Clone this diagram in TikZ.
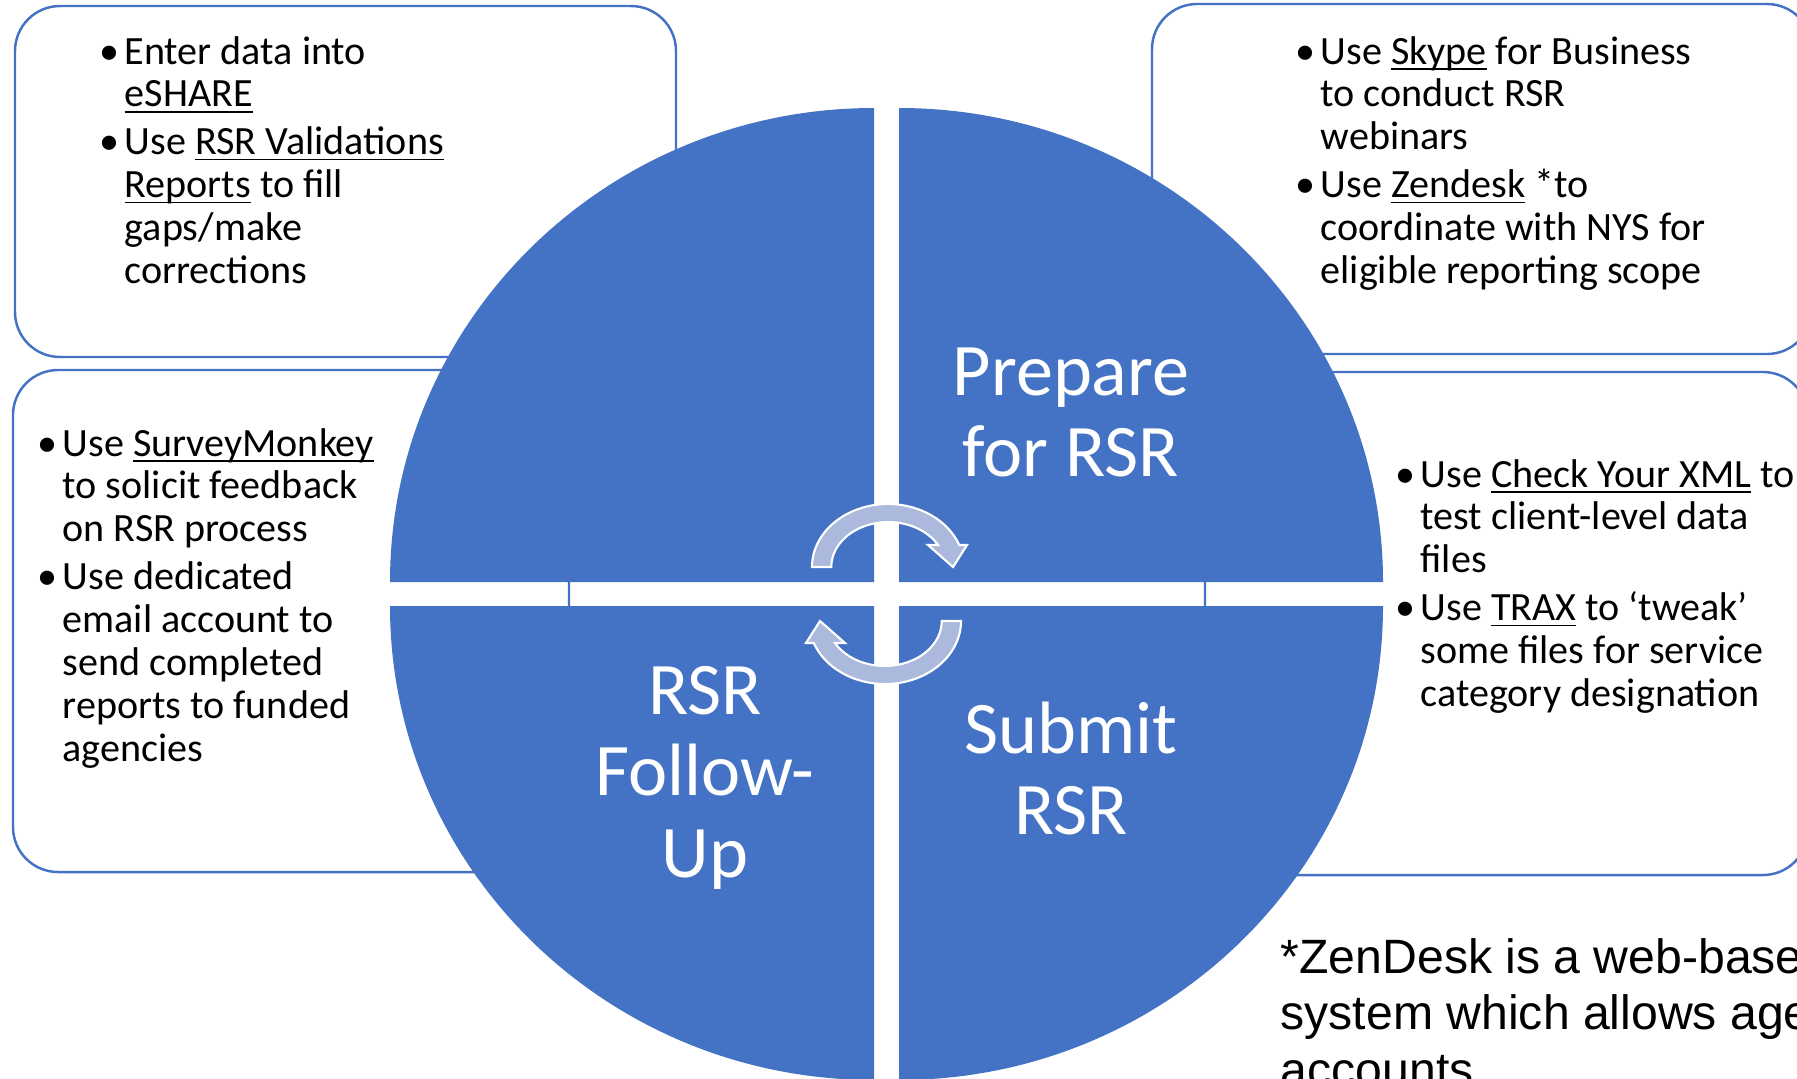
\documentclass[tikz,border=0pt]{standalone}
\usepackage{fontspec}
\setmainfont{Carlito}
\newfontfamily\arialfont{Liberation Sans}
\definecolor{smartblue}{RGB}{68,114,196}
\definecolor{cyclearrow}{RGB}{171,185,221}
\newcommand{\lnk}[1]{\underline{\smash{#1}}}
\newcommand{\bul}{\leavevmode\llap{\textbullet\hspace{1.4pt}}}

\begin{document}
\begin{tikzpicture}[x=0.01cm, y=-0.01cm,
    infobox/.style={draw=smartblue, line width=0.7pt, fill=white, rounded corners=4.5mm},
    quad/.style={fill=smartblue},
    turn/.style={fill=cyclearrow, draw=white, line width=0.6pt, line join=miter},
    infotext/.style={anchor=base west, inner sep=0pt, font=\fontsize{11.4}{12.2}\selectfont},
    quadtext/.style={anchor=base, inner sep=0pt, text=white, font=\fontsize{21.1}{23.3}\selectfont}]
    \useasboundingbox (0,0) rectangle (1797,1078);
    \clip (0,0) rectangle (1797,1078);

    \draw[infobox] (15,6) rectangle (676,357);
    \draw[infobox] (1152,4) rectangle (1812,354);
    \draw[infobox] (13,370) rectangle (569,872);
    \draw[infobox] (1205,372) rectangle (1808,875);

    \node[infotext] (enter) at (124,64) {\parbox[t]{6cm}{\raggedright
        \bul Enter data into\\ \lnk{eSHARE}\\[1.4pt]
        \bul Use \lnk{RSR Validations}\\ \lnk{Reports} to fill\\ gaps/make\\ corrections}};
    \node[infotext] (skype) at (1320,64) {\parbox[t]{6cm}{\raggedright
        \bul Use \lnk{Skype} for Business\\ to conduct RSR\\ webinars\\[1.4pt]
        \bul Use \lnk{Zendesk} *to\\ coordinate with NYS for\\ eligible reporting scope}};
    \node[infotext] (survey) at (62,456) {\parbox[t]{6cm}{\raggedright
        \bul Use \lnk{SurveyMonkey}\\ to solicit feedback\\ on RSR process\\[1.4pt]
        \bul Use dedicated\\ email account to\\ send completed\\ reports to funded\\ agencies}};
    \node[infotext] (xml) at (1420,487) {\parbox[t]{6cm}{\raggedright
        \bul Use \lnk{Check Your XML} to\\ test client-level data\\ files\\[1.4pt]
        \bul Use \lnk{TRAX} to ‘tweak’\\ some files for service\\ category designation}};

    \coordinate (C) at (886.5,594);
    \fill[quad] (874,582) -- (390,582) arc[start angle=180, end angle=270, x radius=484, y radius=474] -- cycle;
    \fill[quad] (899,582) -- (899,108) arc[start angle=270, end angle=360, x radius=484, y radius=474] -- cycle;
    \fill[quad] (899,606) -- (1383,606) arc[start angle=0, end angle=90, x radius=484, y radius=474] -- cycle;
    \fill[quad] (874,606) -- (874,1080) arc[start angle=90, end angle=180, x radius=484, y radius=474] -- cycle;

    \foreach \r in {0,180}
        \filldraw[turn, shift={(C)}, rotate=\r] (-74.5,-27)
            arc[start angle=180, end angle=339.6, x radius=76, y radius=63]
            -- (80.5,-49) -- (66.5,-27) -- (41.5,-49) -- (51.5,-49)
            arc[start angle=330.7, end angle=180, x radius=57, y radius=45] -- cycle;

    \node[quadtext] (prepare) at (1071,395) {\parbox[t]{4cm}{\centering Prepare\\ for RSR}};
    \node[quadtext] (submit) at (1071,753) {\parbox[t]{4cm}{\centering Submit\\ RSR}};
    \node[quadtext] (follow) at (705,714) {\parbox[t]{4cm}{\centering RSR\\ Follow-\\ Up}};

    \node[anchor=base west, inner sep=0pt, font=\arialfont\fontsize{13.7}{16.2}\selectfont] (zendesk) at (1280,973)
        {\parbox[t]{8cm}{\raggedright *ZenDesk is a web-base\\ system which allows age\\ accounts}};
\end{tikzpicture}
\end{document}
